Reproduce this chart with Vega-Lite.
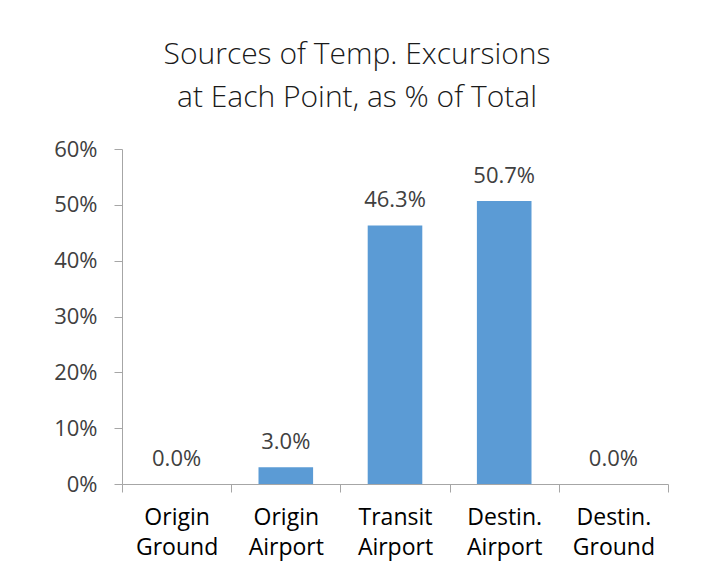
{
  "$schema": "https://vega.github.io/schema/vega-lite/v6.json",
  "width": 546,
  "height": 335,
  "autosize": {"type": "none"},
  "padding": {"left": 122, "top": 149, "right": 57, "bottom": 96},
  "background": "white",
  "title": {
    "text": ["Sources of Temp. Excursions", "at Each Point, as % of Total"],
    "font": "Open Sans",
    "fontSize": 30,
    "fontWeight": 300,
    "color": "#1a1a1a",
    "lineHeight": 43,
    "anchor": "middle",
    "dx": -38,
    "offset": 25
  },
  "data": {
    "values": [
      {"point": "Origin Ground", "share": 0.0},
      {"point": "Origin Airport", "share": 0.03},
      {"point": "Transit Airport", "share": 0.463},
      {"point": "Destin. Airport", "share": 0.507},
      {"point": "Destin. Ground", "share": 0.0}
    ]
  },
  "encoding": {
    "x": {
      "field": "point",
      "type": "nominal",
      "sort": null,
      "scale": {"paddingInner": 0, "paddingOuter": 0},
      "axis": {
        "title": null,
        "labelAngle": 0,
        "labelExpr": "split(datum.label, ' ')",
        "labelFont": "Open Sans",
        "labelFontSize": 23,
        "labelColor": "#000000",
        "labelLineHeight": 30,
        "labelPadding": 14,
        "tickBand": "extent",
        "tickSize": 8,
        "tickColor": "#a6a6a6",
        "domainColor": "#a6a6a6"
      }
    },
    "y": {
      "field": "share",
      "type": "quantitative",
      "scale": {"domain": [0, 0.6], "nice": false},
      "axis": {
        "title": null,
        "format": ".0%",
        "values": [0, 0.1, 0.2, 0.3, 0.4, 0.5, 0.6],
        "grid": false,
        "labelFont": "Open Sans",
        "labelFontSize": 22,
        "labelColor": "#404040",
        "labelPadding": 17,
        "tickSize": 8,
        "tickColor": "#a6a6a6",
        "domainColor": "#a6a6a6"
      }
    }
  },
  "layer": [
    {
      "mark": {"type": "bar", "color": "#5b9bd5", "width": {"band": 0.5}}
    },
    {
      "mark": {
        "type": "text",
        "font": "Open Sans",
        "fontSize": 22,
        "color": "#404040",
        "baseline": "alphabetic",
        "dy": -18
      },
      "encoding": {
        "text": {"field": "share", "type": "quantitative", "format": ".1%"}
      }
    }
  ],
  "config": {
    "view": {"stroke": null}
  }
}
